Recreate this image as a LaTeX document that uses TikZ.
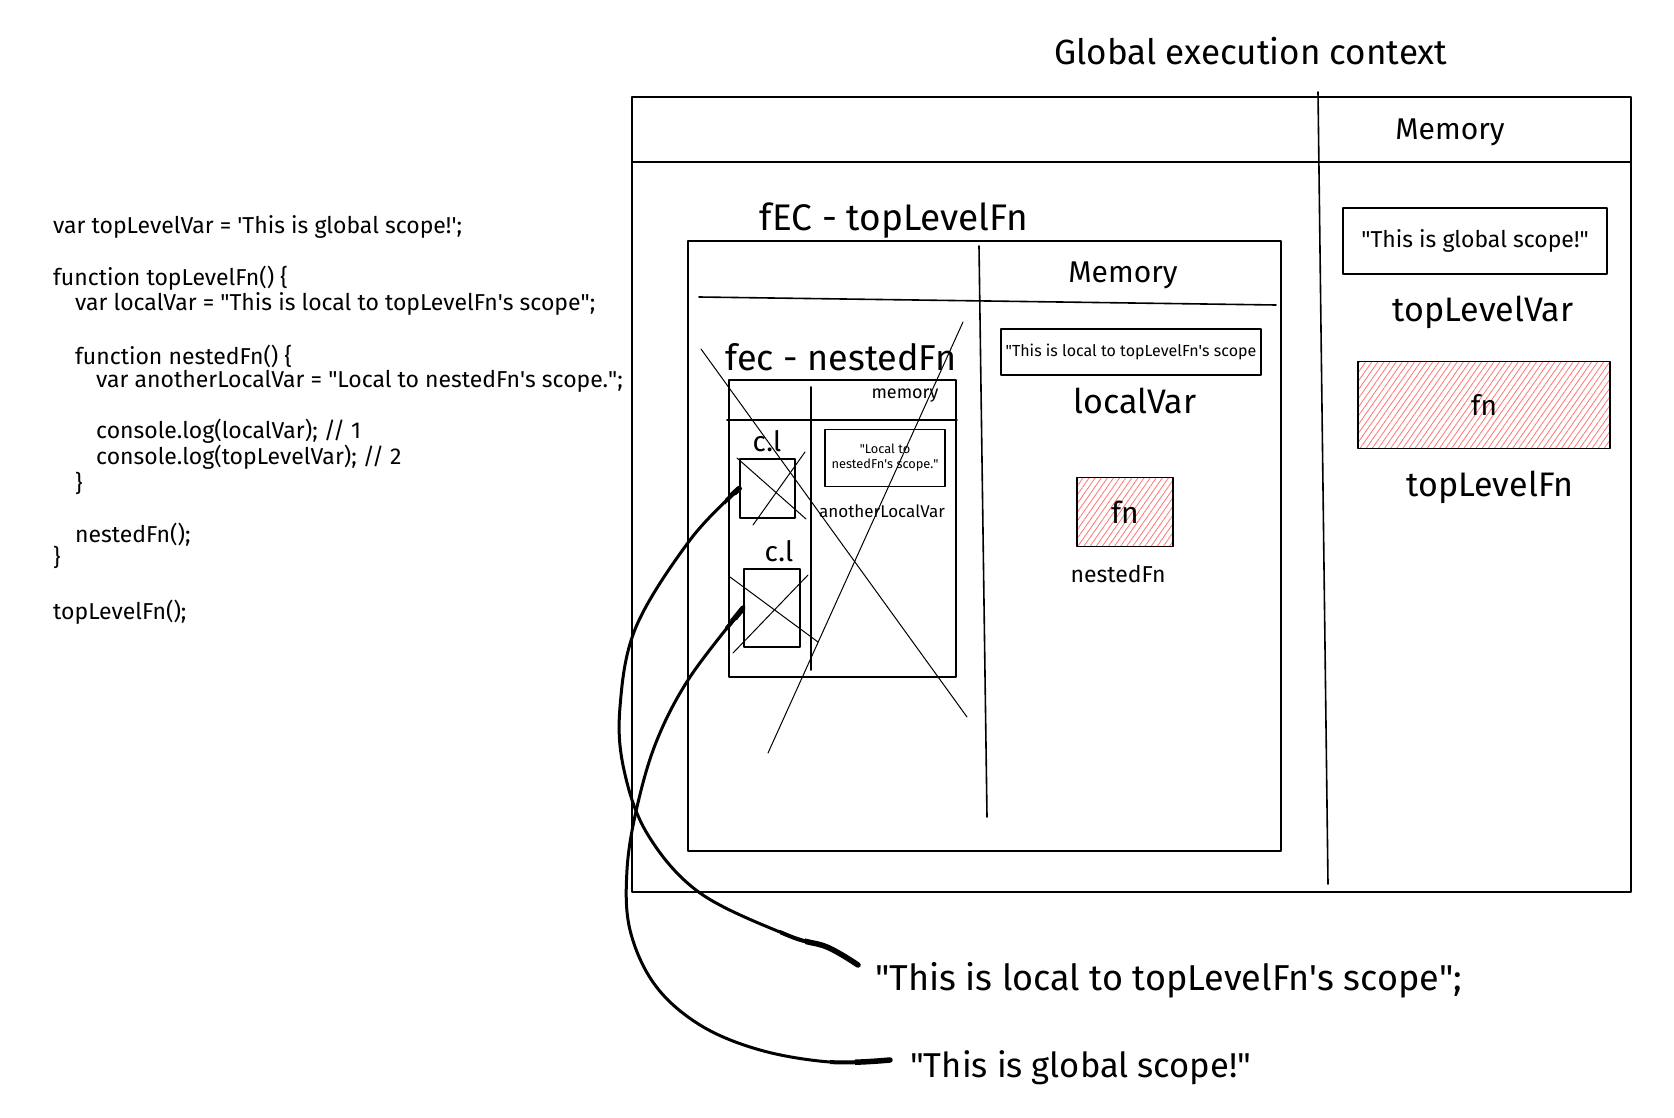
\documentclass[tikz,border=0pt]{standalone}
\usepackage{fontspec}
\setmainfont{Fira Sans}
\usetikzlibrary{patterns.meta}

\newcommand{\sq}{\textquotesingle}
\newcommand{\dq}{\textquotedbl}
\newcommand{\fs}[1]{\fontsize{#1}{#1}\selectfont}

\begin{document}
\begin{tikzpicture}[x=1pt, y=-1pt,
    sketch/.style={line width=1.6pt, line cap=round, line join=round},
    thinline/.style={line width=1pt, line cap=round},
    frame/.style={draw, sketch, inner sep=0pt},
    code/.style={anchor=west, inner sep=0pt, font=\fs{23}},
    heading/.style={inner sep=0pt, font=\fs{35}},
    namelbl/.style={inner sep=0pt, font=\fs{34}},
    valbox/.style={frame, align=center},
    fnbox/.style={frame,
        pattern={Lines[angle=55,distance=5pt,line width=0.8pt]},
        pattern color=red!55},
    wire/.style={line width=3pt, line cap=round, line join=round}]

    \useasboundingbox (0,0) rectangle (1674,1118);

    % source code
    \node[code] (l1)  at (53,227) {var topLevelVar = \sq This is global scope!\sq;};
    \node[code] (l2)  at (53,278) {function topLevelFn() \{};
    \node[code] (l3)  at (75,304) {var localVar = \dq This is local to topLevelFn\sq s scope\dq;};
    \node[code] (l4)  at (75,356) {function nestedFn() \{};
    \node[code] (l5)  at (96,381) {var anotherLocalVar = \dq Local to nestedFn\sq s scope.\dq;};
    \node[code] (l6)  at (96,431) {console.log(localVar); // 1};
    \node[code] (l7)  at (96,457) {console.log(topLevelVar); // 2};
    \node[code] (l8)  at (75,483) {\}};
    \node[code] (l9)  at (75,535) {nestedFn();};
    \node[code] (l10) at (53,557) {\}};
    \node[code] (l11) at (53,612) {topLevelFn();};

    % global execution context
    \node[heading] (gtitle) at (1251,51) {Global execution context};
    \draw[sketch] (632,97) rectangle (1631,892);
    \draw[sketch] (632,162) -- (1631,162);
    \draw[sketch] (1318,92) -- (1328,884);
    \node[heading, font=\fs{30}] (gmem) at (1450,132) {Memory};

    \node[valbox, minimum width=264pt, minimum height=66pt, font=\fs{23}] (gvarbox) at (1475,241) {\dq This is global scope!\dq};
    \node[namelbl] (gvarname) at (1483,312) {topLevelVar};
    \node[fnbox, minimum width=252pt, minimum height=87pt, font=\fs{28}] (gfnbox) at (1484,405) {fn};
    \node[namelbl] (gfnname) at (1490,487) {topLevelFn};

    % fec of topLevelFn
    \node[heading, font=\fs{37}] (ftitle) at (894,221) {fEC - topLevelFn};
    \draw[sketch] (688,241) rectangle (1281,851);
    \draw[sketch] (699,297) -- (1276,305);
    \draw[sketch] (979,246) -- (987,817);
    \node[heading, font=\fs{30}] (fmem) at (1123,275) {Memory};

    \node[valbox, minimum width=260pt, minimum height=46pt, font=\fs{16}] (lvarbox) at (1131,352) {\dq This is local to topLevelFn\sq s scope};
    \node[namelbl] (lvarname) at (1135,401) {localVar};
    \node[fnbox, minimum width=96pt, minimum height=69pt, font=\fs{30}] (nfnbox) at (1125,512) {fn};
    \node[namelbl, font=\fs{23}] (nfnname) at (1118,574) {nestedFn};

    % fec of nestedFn
    \node[heading, font=\fs{36}] (ntitle) at (841,357) {fec - nestedFn};
    \draw[sketch] (729,380) rectangle (956,677);
    \draw[sketch] (727,420) -- (957,420);
    \draw[sketch] (811,387) -- (811,670);
    \node[namelbl, font=\fs{18}] (nmem) at (905,396) {memory};

    \node[valbox, minimum width=120pt, minimum height=57pt, font=\fontsize{12.8}{15}\selectfont] (avarbox) at (885,458) {\dq Local to\\nestedFn\sq s scope.\dq};
    \node[namelbl, font=\fs{17}] (avarname) at (882,511) {anotherLocalVar};

    % call stack
    \node[namelbl, font=\fs{28}] (cl1tag) at (767,441) {c.l};
    \node[frame, minimum width=55pt, minimum height=59pt] (cl1) at (767.5,488.5) {};
    \node[namelbl, font=\fs{28}] (cl2tag) at (779,551) {c.l};
    \node[frame, minimum width=56pt, minimum height=78pt] (cl2) at (772,608) {};

    \draw[thinline] (737,458) -- (806,519);
    \draw[thinline] (805,452) -- (753,525);
    \draw[thinline] (730,577) -- (818,642);
    \draw[thinline] (808,575) -- (733,653);

    % crossed out
    \draw[thinline] (701,349) -- (967,717);
    \draw[thinline] (963,322) -- (768,753);

    % console output
    \node[namelbl, anchor=west, font=\fs{36}] (locout) at (875,980) {\dq This is local to topLevelFn\sq s scope\dq;};
    \node[namelbl, anchor=west, font=\fs{34.5}] (globout) at (910,1068) {\dq This is global scope!\dq};

    \coordinate (locend) at ([shift={(-17,-15)}]locout.west);
    \coordinate (globend) at ([shift={(-20,-8)}]globout.west);

    \def\locpath{plot[smooth, tension=0.6] coordinates {(cl1.west) (690,540) (636,627) (620,707) (624,770) (648,835) (700,893) (787,935) (827,947) (locend)}}
    \def\globpath{plot[smooth, tension=0.6] coordinates {(cl2.west) (690,677) (657,740) (637,807) (627,870) (630,930) (655,985) (700,1025) (760,1050) (830,1062) (globend)}}

    \draw[wire] \locpath;
    \draw[wire] \globpath;
    % heavier stroke ends
    \begin{scope}
        \clip (780,900) rectangle (880,1000) (725,470) rectangle (755,505);
        \draw[wire, line width=4pt] \locpath;
    \end{scope}
    \begin{scope}
        \clip (805,900) rectangle (880,1000) (725,470) rectangle (745,495);
        \draw[wire, line width=5.5pt] \locpath;
    \end{scope}
    \begin{scope}
        \clip (830,1030) rectangle (900,1090) (725,598) rectangle (755,630);
        \draw[wire, line width=4pt] \globpath;
    \end{scope}
    \begin{scope}
        \clip (855,1030) rectangle (900,1090) (725,598) rectangle (745,620);
        \draw[wire, line width=5.5pt] \globpath;
    \end{scope}

\end{tikzpicture}
\end{document}
